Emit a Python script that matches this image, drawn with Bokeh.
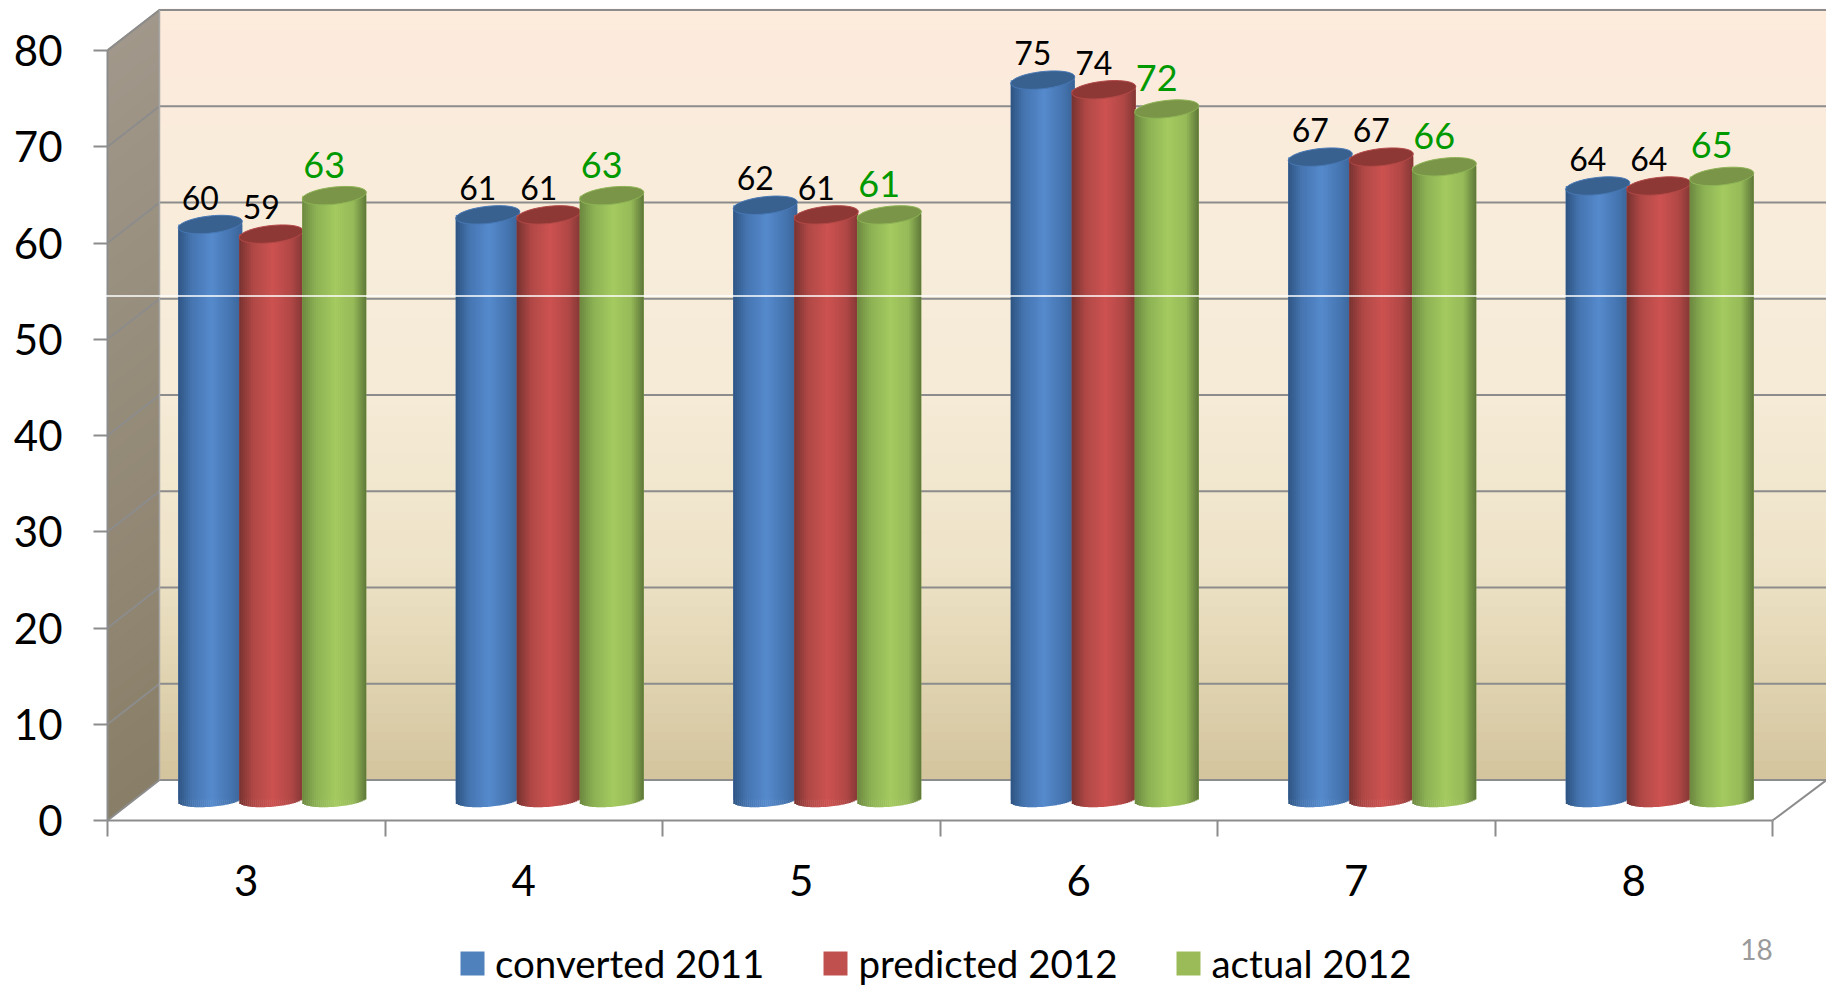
import math
from bokeh.plotting import figure
from bokeh.embed import file_html
from bokeh.resources import INLINE
from bokeh.models import (Range1d, FixedTicker, Legend, LegendItem, Label, Span, LinearAxis)
from bokeh.core.properties import value

categories = ["3", "4", "5", "6", "7", "8"]
converted_2011 = [60, 61, 62, 75, 67, 64]
predicted_2012 = [59, 61, 61, 74, 67, 64]
actual_2012 = [63, 63, 61, 72, 66, 65]
series_names = ["converted 2011", "predicted 2012", "actual 2012"]
y_ticks = [0, 10, 20, 30, 40, 50, 60, 70, 80]
page_number = "18"

FONT = "Lato"
W, H = 1826, 986
PX_X, PX_Y = 277.5, 9.625          # pixels per category / per value unit
DX, DY = 52 / PX_X, 4.2            # depth of the 3D box
X_START, X_END = -107 / PX_X, (W - 107) / PX_X
Y_START, Y_END = (820 - H) / PX_Y, 820 / PX_Y
GRID = "#8c8c8c"


def lerp(stops, f):
    for (a, ca), (b, cb) in zip(stops, stops[1:]):
        if f <= b:
            k = (f - a) / (b - a) if b > a else 0
            return "#%02x%02x%02x" % tuple(round(x + (y - x) * k) for x, y in zip(ca, cb))
    return "#%02x%02x%02x" % stops[-1][1]


p = figure(width=W, height=H, output_backend="svg", toolbar_location=None,
           x_range=Range1d(X_START, X_END), y_range=Range1d(Y_START, Y_END),
           x_axis_location=None, y_axis_location=None,
           min_border=0)
p.outline_line_color = None
p.background_fill_color = "white"
p.border_fill_color = "white"
p.grid.visible = False

# --- back wall gradient
wall_stops = [(0, (253, 235, 220)), (0.3, (248, 236, 219)), (0.5, (245, 235, 214)),
              (0.72, (238, 227, 200)), (0.87, (224, 211, 176)), (1, (211, 196, 157))]
N = 80
bot, top = DY, 80 + DY
ys = [bot + (top - bot) * i / N for i in range(N + 1)]
p.quad(left=DX, right=X_END, bottom=ys[:-1],
       top=[y + 0.15 for y in ys[1:]],
       fill_color=[lerp(wall_stops, 1 - (i + 0.5) / N) for i in range(N)], line_color=None)

# --- left wall gradient
side_stops = [(0, (161, 151, 138)), (1, (137, 127, 104))]
xs_side, ys_side, cs = [], [], []
for i in range(N):
    v0, v1 = 80 * i / N, 80 * (i + 1) / N + 0.15
    xs_side.append([0, DX, DX, 0])
    ys_side.append([v0, v0 + DY, v1 + DY, v1])
    cs.append(lerp(side_stops, 1 - (i + 0.5) / N))
p.patches(xs_side, ys_side, fill_color=cs, line_color=None)

# --- grid lines
for t in y_ticks:
    p.line([0, DX, X_END], [t, t + DY, t + DY], line_color=GRID, line_width=2)
p.line([DX, DX], [DY, 80 + DY], line_color="#a8a8a8", line_width=1.5)
n_cat = len(categories)
p.line([n_cat, X_END], [0, DY], line_color=GRID, line_width=2)

# --- axes
ya = LinearAxis(fixed_location=0, ticker=FixedTicker(ticks=y_ticks, minor_ticks=[]))
ya.bounds = (0, 80)
ya.major_tick_out = 14
ya.major_tick_in = 0
ya.major_tick_line_color = GRID
ya.major_tick_line_width = 2
ya.axis_line_color = GRID
ya.axis_line_width = 2
ya.major_label_text_font = FONT
ya.major_label_text_font_size = "42px"
ya.major_label_text_color = "black"
ya.major_label_standoff = 31
p.add_layout(ya, "left")

centers = [i + 0.5 for i in range(n_cat)]
xa = LinearAxis(fixed_location=0,
                ticker=FixedTicker(ticks=centers, minor_ticks=list(range(n_cat + 1))))
xa.major_label_overrides = {c: t for c, t in zip(centers, categories)}
xa.bounds = (0, n_cat)
xa.major_tick_out = 0
xa.major_tick_in = 0
xa.minor_tick_out = 16
xa.minor_tick_in = 0
xa.minor_tick_line_color = GRID
xa.minor_tick_line_width = 2
xa.axis_line_color = GRID
xa.axis_line_width = 2
xa.major_label_text_font = FONT
xa.major_label_text_font_size = "42px"
xa.major_label_text_color = "black"
xa.major_label_standoff = 28
p.add_layout(xa, "below")

# --- cylinders
HALF = 32 / PX_X
OFFSETS = [-36 / PX_X, 25 / PX_X, 88 / PX_X]
TOP_OFF = 1.92
BASE_OFF = 2.15
TILT = 3.3 / PX_Y
ELL_T = 8.6 / PX_Y
ELL_B = 7 / PX_Y
STRIPS = 32

shades = [
    [(0, (46, 84, 130)), (0.22, (70, 118, 178)), (0.52, (85, 138, 205)), (0.8, (70, 118, 178)), (1, (58, 98, 150))],
    [(0, (118, 50, 48)), (0.22, (176, 72, 70)), (0.52, (204, 82, 80)), (0.8, (178, 72, 70)), (1, (130, 55, 53))],
    [(0, (108, 136, 64)), (0.22, (140, 178, 84)), (0.52, (164, 202, 96)), (0.8, (150, 186, 88)), (1, (92, 118, 56))],
]
top_fill = ["#38618f", "#8e3836", "#7a9448"]
legend_fill = ["#4f81bd", "#c0504d", "#9bbb59"]
label_color = ["black", "black", "#009900"]
label_size = ["32px", "32px", "36px"]
label_offset = [-27, -27, -31]
all_series = [converted_2011, predicted_2012, actual_2012]

legend_items = []
for s, vals in enumerate(all_series):
    bar_x = [c + OFFSETS[s] for c in centers]
    sl, sr, sb, st, sc = [], [], [], [], []
    tx, ty = [], []
    for cx, v in zip(bar_x, vals):
        for k in range(STRIPS):
            t = -1 + 2 * (k + 0.5) / STRIPS
            sl.append(cx + HALF * (-1 + 2 * k / STRIPS))
            sr.append(cx + HALF * (-1 + 2 * (k + 1.25) / STRIPS) if k < STRIPS - 1 else cx + HALF)
            sb.append(BASE_OFF + TILT * 0.75 * t - ELL_B * (1 - t * t) ** 0.5)
            st.append(v + TOP_OFF + TILT * t)
            sc.append(lerp(shades[s], (t + 1) / 2))
        ex, ey = [], []
        for k in range(49):
            a = 2 * math.pi * k / 48
            ex.append(cx + HALF * math.cos(a))
            ey.append(v + TOP_OFF + TILT * math.cos(a) + ELL_T * math.sin(a))
        tx.append(ex)
        ty.append(ey)
    r = p.quad(left=[x - HALF for x in bar_x], right=[x + HALF for x in bar_x],
               bottom=BASE_OFF, top=[v + TOP_OFF for v in vals],
               fill_color=legend_fill[s], line_color=None)
    p.quad(left=sl, right=sr, bottom=sb, top=st, fill_color=sc, line_color=None)
    p.patches(tx, ty, fill_color=top_fill[s], line_color=lerp(shades[s], 0.25), line_width=1)
    legend_items.append(LegendItem(label=series_names[s], renderers=[r]))

for s, vals in enumerate(all_series):
    p.text(x=[c + OFFSETS[s] for c in centers], y=[v + TOP_OFF for v in vals],
           text=[str(v) for v in vals], x_offset=-10, y_offset=label_offset[s],
           text_align="center", text_baseline="middle",
           text_font=value(FONT), text_font_size=value(label_size[s]),
           text_color=label_color[s])

# --- stray white line across the plot
p.add_layout(Span(location=(820 - 295.5) / PX_Y, dimension="width",
                  line_color="white", line_width=1.5))

# --- legend
legend = Legend(items=legend_items, orientation="horizontal",
                location=(457, 0),
                glyph_width=30, glyph_height=30,
                label_standoff=8, spacing=56, padding=0, margin=0,
                border_line_color=None, background_fill_alpha=0,
                label_text_font=FONT, label_text_font_size="38.5px",
                label_text_color="black", label_height=30)
p.add_layout(legend, "center")

p.add_layout(Label(x=1756, y=H - 949, x_units="screen", y_units="screen", text=page_number,
                   text_align="center", text_baseline="middle",
                   text_font=FONT, text_font_size="28px", text_color="#9a9a9a"))

open("out.html", "w").write(file_html(p, INLINE))
